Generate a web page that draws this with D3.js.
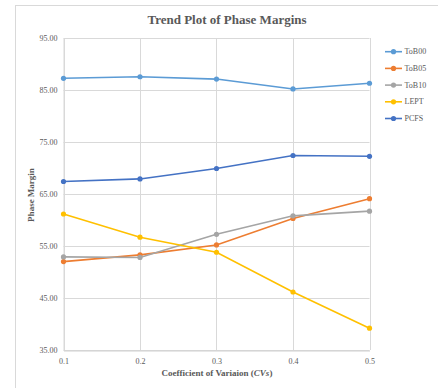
<!DOCTYPE html>
<html><head><meta charset="utf-8">
<script src="https://cdn.jsdelivr.net/npm/d3@7"></script>
<style>body{margin:0;background:#fff;}svg{display:block;font-family:"Liberation Serif","Times New Roman",serif;}</style>
</head><body><svg id="c" width="438" height="388"></svg>
<script>
const categories = [0.1, 0.2, 0.3, 0.4, 0.5];
const seriesNames = ["ToB00", "ToB05", "ToB10", "LEPT", "PCFS"];
const ToB00 = [87.25, 87.55, 87.1, 85.2, 86.3];
const ToB05 = [52.0, 53.3, 55.2, 60.3, 64.1];
const ToB10 = [52.9, 52.8, 57.25, 60.8, 61.7];
const LEPT = [61.15, 56.7, 53.8, 46.15, 39.2];
const PCFS = [67.4, 67.9, 69.9, 72.4, 72.25];
const yTicks = [35, 45, 55, 65, 75, 85, 95];
const colors = ["#5B9BD5", "#ED7D31", "#A5A5A5", "#FFC000", "#4472C4"];
const seriesValues = [ToB00, ToB05, ToB10, LEPT, PCFS];

const svg = d3.select("#c");
svg.append("rect").attr("x",15.5).attr("y",5.5).attr("width",440).attr("height",400)
  .attr("fill","none").attr("stroke","#d9d9d9");

const x = d3.scaleLinear().domain([0.1,0.5]).range([63.5,369.5]);
const y = d3.scaleLinear().domain([35,95]).range([350,38]);

// gridlines
svg.append("g").selectAll("line.h").data(yTicks).join("line")
  .attr("x1",63.5).attr("x2",369.5).attr("y1",d=>Math.round(y(d))+0.5).attr("y2",d=>Math.round(y(d))+0.5)
  .attr("stroke","#d9d9d9").attr("stroke-width",1);
svg.append("g").selectAll("line.v").data(categories).join("line")
  .attr("y1",38).attr("y2",350).attr("x1",d=>Math.round(x(d))+0.5).attr("x2",d=>Math.round(x(d))+0.5)
  .attr("stroke","#d9d9d9").attr("stroke-width",1);

// axes
const yAxis = d3.axisLeft(y).tickValues(yTicks).tickFormat(d3.format(".2f")).tickSize(0).tickPadding(6);
const gy = svg.append("g").attr("transform","translate(63.5,0)").call(yAxis);
gy.select(".domain").attr("stroke","#d9d9d9");
gy.selectAll("text").attr("fill","#595959").attr("font-size","8px").attr("font-family","Liberation Serif, serif");

const xAxis = d3.axisBottom(x).tickValues(categories).tickFormat(d3.format(".1f")).tickSize(0).tickPadding(8);
const gx = svg.append("g").attr("transform","translate(0,350.5)").call(xAxis);
gx.select(".domain").attr("stroke","#d0d0d0");
gx.selectAll("text").attr("fill","#595959").attr("font-size","8px").attr("font-family","Liberation Serif, serif");

// lines
const line = d3.line().x((d,i)=>x(categories[i])).y(d=>y(d));
seriesValues.forEach((vals,k)=>{
  svg.append("path").datum(vals).attr("d",line).attr("fill","none")
    .attr("stroke",colors[k]).attr("stroke-width",1.6);
  svg.append("g").selectAll("circle").data(vals).join("circle")
    .attr("cx",(d,i)=>x(categories[i])).attr("cy",d=>y(d)).attr("r",2.6).attr("fill",colors[k]);
});

// title
svg.append("text").attr("x",227).attr("y",24).attr("text-anchor","middle")
  .attr("font-size","13px").attr("font-weight","bold").attr("fill","#595959").text("Trend Plot of Phase Margins");

// axis titles
svg.append("text").attr("transform","translate(34,195) rotate(-90)").attr("text-anchor","middle")
  .attr("font-size","9px").attr("font-weight","bold").attr("fill","#595959").text("Phase Margin");
const xt = svg.append("text").attr("x",217).attr("y",376).attr("text-anchor","middle")
  .attr("font-size","9px").attr("font-weight","bold").attr("fill","#595959");
xt.append("tspan").text("Coefficient of Variaion (");
xt.append("tspan").attr("font-style","italic").text("CVs");
xt.append("tspan").text(")");

// legend
const lg = svg.append("g").selectAll("g").data(seriesNames).join("g")
  .attr("transform",(d,i)=>`translate(385,${51.7+i*16.7})`);
lg.append("line").attr("x1",0).attr("x2",17).attr("stroke",(d,i)=>colors[i]).attr("stroke-width",1.6);
lg.append("circle").attr("cx",8.5).attr("r",2.6).attr("fill",(d,i)=>colors[i]);
lg.append("text").attr("x",19.5).attr("dy","0.32em").attr("font-size","8px").attr("fill","#595959").text(d=>d);
</script></body></html>
